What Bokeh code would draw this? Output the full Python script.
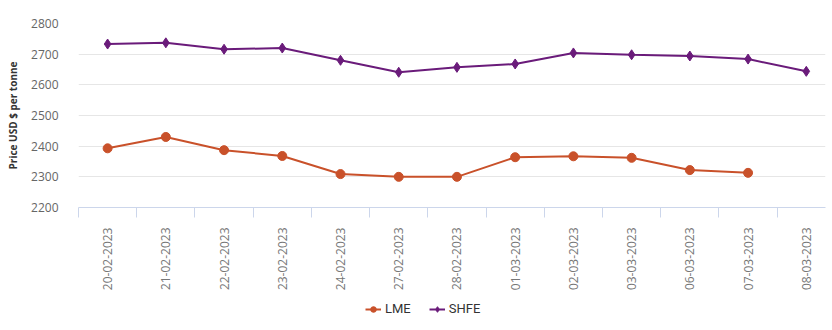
import math
from bokeh.plotting import figure
from bokeh.layouts import column
from bokeh.models import FixedTicker, Range1d, Legend, LegendItem, ColumnDataSource
from bokeh.embed import file_html
from bokeh.resources import INLINE

dates = ["20-02-2023", "21-02-2023", "22-02-2023", "23-02-2023", "24-02-2023",
         "27-02-2023", "28-02-2023", "01-03-2023", "02-03-2023", "03-03-2023",
         "06-03-2023", "07-03-2023", "08-03-2023"]
lme = [2393, 2430, 2387, 2368, 2309, 2300, 2300, 2364, 2367, 2362, 2322, 2313, float("nan")]
shfe = [2733, 2737, 2716, 2720, 2680, 2641, 2657, 2668, 2704, 2698, 2694, 2684, 2644]
y_ticks = [2200, 2300, 2400, 2500, 2600, 2700, 2800]
series_names = ["LME", "SHFE"]

LME_COLOR = "#c9512a"
SHFE_COLOR = "#6a1b7a"

xs = list(range(len(dates)))
src = ColumnDataSource(dict(x=xs, lme=lme, shfe=shfe))

p = figure(frame_width=747, frame_height=184, output_backend="svg", toolbar_location=None,
           x_range=Range1d(-0.5, 12.33), y_range=Range1d(2200, 2800),
           min_border_left=78, min_border_right=7, min_border_top=23, min_border_bottom=0)
p.outline_line_color = None
p.background_fill_color = "white"
p.border_fill_color = "white"

p.line("x", "lme", source=src, line_color=LME_COLOR, line_width=2)
p.scatter("x", "lme", source=src, marker="circle", size=9, fill_color=LME_COLOR, line_color=LME_COLOR)
p.line("x", "shfe", source=src, line_color=SHFE_COLOR, line_width=2)
p.scatter("x", "shfe", source=src, marker="diamond", size=10, fill_color=SHFE_COLOR, line_color=SHFE_COLOR)

# x axis
xa = p.xaxis[0]
xa.ticker = FixedTicker(ticks=xs, minor_ticks=[i - 0.5 for i in range(len(dates) + 1)])
xa.major_label_overrides = {i: d for i, d in enumerate(dates)}
xa.major_label_orientation = math.pi / 2
xa.major_tick_out = 0
xa.major_tick_in = 0
xa.minor_tick_out = 10
xa.minor_tick_in = 0
xa.minor_tick_line_color = "#ccd6eb"
xa.axis_line_color = "#ccd6eb"
xa.major_label_text_font = "Open Sans"
xa.major_label_text_font_size = "12px"
xa.major_label_text_color = "#777777"
xa.major_label_standoff = 10
p.xgrid.visible = False

# y axis
ya = p.yaxis[0]
ya.ticker = FixedTicker(ticks=y_ticks)
ya.axis_line_color = None
ya.major_tick_line_color = None
ya.minor_tick_line_color = None
ya.major_label_text_font = "Open Sans"
ya.major_label_text_font_size = "12px"
ya.major_label_text_color = "#666666"
ya.major_label_standoff = 14
ya.axis_label = "Price USD $ per tonne"
ya.axis_label_text_font = "Open Sans"
ya.axis_label_text_font_style = "bold"
ya.axis_label_text_font_size = "10px"
ya.axis_label_text_color = "#333333"
ya.axis_label_standoff = 8
p.ygrid.grid_line_color = "#e6e6e6"
p.ygrid.ticker = FixedTicker(ticks=y_ticks)

# legend strip (same series, drawn outside its visible ranges; only the legend shows)
lg = figure(width=832, height=36, output_backend="svg", toolbar_location=None,
            x_range=Range1d(100, 101), y_range=Range1d(0, 1),
            min_border=0, min_border_left=0, min_border_right=0,
            min_border_top=0, min_border_bottom=0)
lg.axis.visible = False
lg.grid.visible = False
lg.outline_line_color = None
lg.border_fill_color = "white"
r1 = lg.line("x", "lme", source=src, line_color=LME_COLOR, line_width=2)
s1 = lg.scatter("x", "lme", source=src, marker="circle", size=9, fill_color=LME_COLOR, line_color=LME_COLOR)
r2 = lg.line("x", "shfe", source=src, line_color=SHFE_COLOR, line_width=2)
s2 = lg.scatter("x", "shfe", source=src, marker="diamond", size=10, fill_color=SHFE_COLOR, line_color=SHFE_COLOR)
legend = Legend(items=[LegendItem(label=series_names[0], renderers=[r1, s1]),
                       LegendItem(label=series_names[1], renderers=[r2, s2])],
                orientation="horizontal", location=(287, 13),
                label_text_font="Roboto", label_text_font_size="13px",
                label_text_color="#333333", border_line_color=None,
                background_fill_alpha=0, label_height=14, glyph_height=14,
                glyph_width=16, label_standoff=4, spacing=18, padding=2, margin=0)
lg.add_layout(legend, "center")

layout = column(p, lg, spacing=0)
open("out.html", "w").write(file_html(layout, INLINE))
